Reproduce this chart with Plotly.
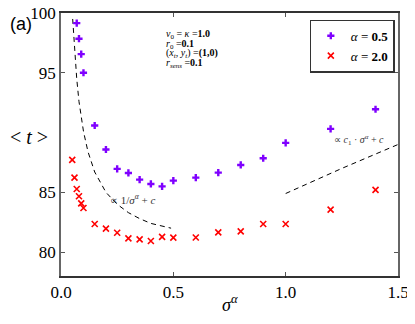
import plotly.graph_objects as go

# alpha = 0.5 series
sigma_a05 = [0.07, 0.08, 0.09, 0.10, 0.15, 0.20, 0.25, 0.30, 0.35, 0.40, 0.45, 0.50,
             0.60, 0.70, 0.80, 0.90, 1.00, 1.20, 1.40]
t_a05 = [99.15, 97.85, 96.56, 95.0, 90.59, 88.58, 86.96, 86.62, 86.06, 85.70, 85.50, 85.98,
         86.23, 86.65, 87.29, 87.85, 89.14, 90.31, 91.95]

# alpha = 2.0 series
sigma_a20 = [0.05, 0.06, 0.07, 0.08, 0.09, 0.10, 0.15, 0.20, 0.25, 0.30, 0.35, 0.40, 0.45, 0.50,
             0.60, 0.70, 0.80, 0.90, 1.00, 1.20, 1.40]
t_a20 = [87.71, 86.23, 85.28, 84.67, 84.08, 83.69, 82.35, 81.96, 81.62, 81.15, 81.06, 80.93, 81.27, 81.21,
         81.22, 81.65, 81.73, 82.35, 82.35, 83.55, 85.20]

# guide curves
fit1_x = [0.052, 0.06, 0.07, 0.08, 0.10, 0.12, 0.15, 0.20, 0.25, 0.30, 0.35, 0.40, 0.45, 0.49]
fit1_y = [99.5, 96.9, 94.5, 92.6, 90.1, 88.4, 86.7, 85.0, 84.0, 83.3, 82.8, 82.4, 82.2, 82.0]
fit2_x = [1.0, 1.25, 1.5]
fit2_y = [84.9, 87.0, 89.0]

params = ["<i>v</i><sub>0</sub> = <i>κ</i> =<b>1.0</b>",
          "<i>r</i><sub>0</sub> =<b>0.1</b>",
          "(<i>x<sub>t</sub></i>, <i>y<sub>t</sub></i>) =<b>(1,0)</b>",
          "<i>r<sub>sens</sub></i> =<b>0.1</b>"]
params_y = [98.2, 97.4, 96.6, 95.8]

serif = "Liberation Serif"

fig = go.Figure()
fig.add_trace(go.Scatter(x=fit1_x, y=fit1_y, mode="lines", showlegend=False,
                         line=dict(color="black", width=1, dash="5px,4px")))
fig.add_trace(go.Scatter(x=fit2_x, y=fit2_y, mode="lines", showlegend=False,
                         line=dict(color="black", width=1, dash="5px,4px")))
fig.add_trace(go.Scatter(x=sigma_a05, y=t_a05, mode="markers", name="<i>α</i> = <b>0.5</b>",
                         marker=dict(symbol="cross", size=6, color="#7f00ff")))
fig.add_trace(go.Scatter(x=sigma_a20, y=t_a20, mode="markers", name="<i>α</i> = <b>2.0</b>",
                         marker=dict(symbol="x-thin", size=6, color="red",
                                     line=dict(color="red", width=1.6))))

for txt, yy in zip(params, params_y):
    fig.add_annotation(x=0.459, y=yy, text=txt, showarrow=False, xanchor="left",
                       font=dict(family=serif, size=10, color="black"))

fig.add_annotation(x=0.209, y=84.47, text="∝ 1/<i>σ<sup>α</sup></i> + <i>c</i>", showarrow=False,
                   xanchor="left", font=dict(family=serif, size=11, color="#333"))
fig.add_annotation(x=1.207, y=89.4, text="∝ <i>c</i><sub>1</sub> · <i>σ<sup>α</sup></i> + <i>c</i>",
                   showarrow=False, xanchor="left", font=dict(family=serif, size=10, color="#333"))

fig.add_annotation(xref="paper", yref="paper", x=-0.157, y=0.96, text="(a)", showarrow=False,
                   xanchor="left", yanchor="middle",
                   font=dict(family="Liberation Sans", size=18, color="black"))
fig.add_annotation(xref="paper", yref="paper", x=-0.157, y=0.528, text="&lt; <i>t</i> &gt;", showarrow=False,
                   xanchor="left", yanchor="middle", font=dict(family=serif, size=20, color="black"))
fig.add_annotation(xref="paper", yref="paper", x=0.5, y=-0.103, text="<i>σ<sup>α</sup></i>", showarrow=False,
                   xanchor="center", yanchor="middle", font=dict(family=serif, size=18, color="black"))

fig.update_xaxes(range=[0, 1.5], tickvals=[0, 0.5, 1.0, 1.5], ticktext=["0.0", "0.5", "1.0", "1.5"],
                 ticks="inside", ticklen=4, tickcolor="#555", showgrid=False, zeroline=False,
                 showline=True, linecolor="#333", linewidth=1.5, mirror="ticks", automargin=False,
                 ticklabeloverflow="allow",
                 tickfont=dict(family=serif, size=17, color="black"))
fig.update_yaxes(range=[78, 100], tickvals=[80, 85, 95, 100],
                 ticks="inside", ticklen=4, tickcolor="#555", showgrid=False, zeroline=False,
                 showline=True, linecolor="#666", linewidth=1.5, mirror="ticks", automargin=False,
                 ticklabeloverflow="allow",
                 tickfont=dict(family=serif, size=17, color="black"))

# the page body adds an 8px offset, so the figure is 8px smaller with shifted margins
fig.update_layout(width=407, height=316, margin=dict(l=53, r=17, t=5, b=48),
                  plot_bgcolor="white", paper_bgcolor="white",
                  legend=dict(x=0.99, y=0.975, xanchor="right", yanchor="top",
                              bordercolor="#333", borderwidth=1.2, bgcolor="white",
                              font=dict(family=serif, size=13, color="black"),
                              itemwidth=30, tracegroupgap=0))
fig.write_html("out.html")
